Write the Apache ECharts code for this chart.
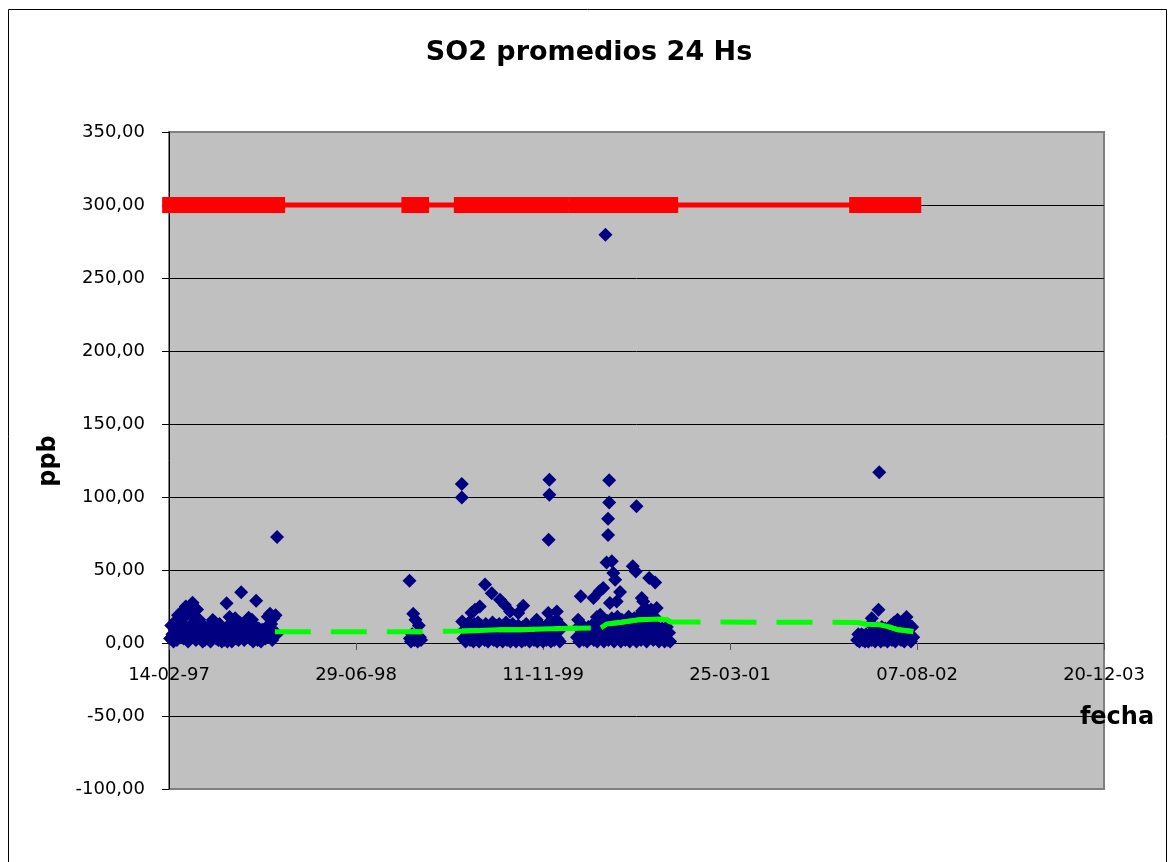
<!DOCTYPE html>
<html><head><meta charset="utf-8">
<script src="https://cdn.jsdelivr.net/npm/echarts@6/dist/echarts.min.js"></script>
<style>html,body{margin:0;padding:0;background:#fff}#c{width:1169px;height:862px}</style>
</head><body><div id="c"></div>
<script>
// Day offsets are counted from 14-02-1997 (first x tick)
const baseDateUTC = Date.UTC(1997, 1, 14);
const xMin = 0, xMax = 2500, xStep = 500;
const yMin = -100, yMax = 350, yStep = 50;
const sampleStepDays = 3;

// Regular 24h samples (every 3 days) per measuring campaign
const camp1Start = 3;
const camp1Vals = [3,12,6,1, 9,15,2,19,11,5, 14,22,3,18,25,8,1,21,12,24,27.6,6,17,2,23, 10,16,4,13,1, 7,2,10,5,3,
  12,1,9,15.7,6,14,3,11,2,13,8,1, 4,2,6,3,1, 12,17.8,5,1,15,9,17,3,11,2,14, 7, 6,11.6,2,9,4,
  13,17.3,3,8,16,1,12,5,10, 2,10,6,1,9,4,8,3, 11,18,5,20,13,2,17,8,19,6];
const camp2Start = 644;
const camp2Vals = [3,1,6,20,2,16,5,1,12,4,2];
const camp3Start = 784;
const camp3Vals = [14.8,3,9,1,12,6,14,2,11,5, 1,13,7,3,14,1,8,12,4,10, 2,13,6,1,11,4,9,14,2,7,
  12,1,5,13,3,9,1,11,6,14, 2,8,12,1,5,13,3,10,1,7, 12,4,9,1,11,6,2,13,5,8,
  1,10,4,12,2,7,11,1,9,3, 12,5,1,10,7,2,13,4,9,1, 14,6,2,11,16,3,8,1,12];
const camp4Start = 1091;
const camp4Vals = [4,11,1,9,6,12,2,10,5,1, 11,7,3,12,9,2,10,5,1,12, 8,14,3,16,1,11,6,15,2,13,
  9,17,4,1,14,7,18,3,12,1, 16,6,10,2,15,4,18,1,9,13, 3,17,7,1,14,5,19,2,22,10,
  6,24,1,15,20,4,23,9,2,18, 12,5,11,1,9,3,10,6,1,8, 11,2,7,1];
const camp5Start = 1840;
const camp5Vals = [2,6,1,4,6,2,5,1,6,3, 1,5,13,2,8,11,1,6,10,3, 9,1,11,5,2,10,7,1,9,4,
  12,2,8,14,1,10,16,4,12,2, 12,7,1,15,17.8,3,13,6,1,11, 4];

// Higher daily values (day offset, ppb)
const peakDays = [154,193,233,289, 643, 783,783,809,818,831,845,863,885,898,912,934,947,983,1014,1015,1017,1017,1037,
  1094,1101,1135,1144,1151,1153,1161,1167,1170,1174,1174,1177,1177,1179,1184,1188,1193,1197,1206,1240,1248,1250,1264,1268,1284,1300,1304,
  1879,1897,1899];
const peakVals = [27.2,34.7,29,72.6, 42.7, 108.9,99.7,20.7,22.8,25,40,34,29.7,26,21.6,20.5,25.5,16,20.5,70.8,101.6,111.8,21.6,
  16,32,30.8,17.8,35.4,19.4,37.7,279.6,55.2,85.1,74,111.4,96.3,27.4,56,48,43.4,28.5,35,52.5,49,93.6,30.8,28.5,44.5,41.5,24,
  17,22.8,117];

const limitValue = 300;

// Running mean (green)
const meanDays = [283,644,674,784,830,880,940,1000,1048,1091,1155,1170,1210,1259,1313,1332,1340,1840,1865,1900,1925,1950,1990];
const meanVals = [7.7,7.7,7.7,8.3,8.6,9.0,9.1,9.6,9.9,10.1,10.4,13.0,14.2,16.0,16.4,16.0,14.4,14.1,12.8,12.5,11.0,9.0,7.9];

// ---- build data
const camps = [[camp1Start,camp1Vals],[camp2Start,camp2Vals],[camp3Start,camp3Vals],[camp4Start,camp4Vals],[camp5Start,camp5Vals]];
const so2 = [];
camps.forEach(([s,vals]) => vals.forEach((v,i) => so2.push([s + i*sampleStepDays, v])));
peakDays.forEach((d,i) => so2.push([d, peakVals[i]]));
const daysSorted = Array.from(new Set(so2.map(p => p[0]))).sort((a,b)=>a-b);
const limitData = daysSorted.map(d => [d, limitValue]);
const meanData = meanDays.map((d,i) => [d, meanVals[i]]);
const meanSegments = [];
let cur = [];
meanData.forEach((p,i) => {
  if (i > 0 && p[0] - meanData[i-1][0] > 60) { meanSegments.push(cur); cur = []; }
  cur.push(p);
});
meanSegments.push(cur);

function pad(n){return (n<10?'0':'')+n;}
function fmtDate(d){
  const dt = new Date(baseDateUTC + d*86400000);
  return pad(dt.getUTCDate())+'-'+pad(dt.getUTCMonth()+1)+'-'+String(dt.getUTCFullYear()).slice(2);
}

const FONT = 'Tahoma, "DejaVu Sans", sans-serif';
const chart = echarts.init(document.getElementById('c'), null, {renderer:'canvas'});
const series = [
  {type:'scatter', data: so2, symbol:'diamond', symbolSize:14, itemStyle:{color:'#000080', opacity:1}, z:2, silent:true},
  {type:'line', data: limitData, symbol:'rect', symbolSize:16, showAllSymbol:true,
   lineStyle:{color:'#ff0000', width:5}, itemStyle:{color:'#ff0000'}, z:3, silent:true},
  {type:'line', data: meanData, showSymbol:false, symbol:'none',
   lineStyle:{color:'#00ff00', width:5, type:[36,20], cap:'butt'}, z:4, silent:true}
];
meanSegments.forEach(seg => {
  if (seg.length > 1) series.push({type:'line', data: seg, showSymbol:false, symbol:'none',
    lineStyle:{color:'#00ff00', width:5, cap:'butt'}, z:5, silent:true});
});

chart.setOption({
  animation:false,
  backgroundColor:'#ffffff',
  grid:{left:169, right:65, top:132, bottom:73, containLabel:false, outerBoundsMode:'none',
        show:true, backgroundColor:'#c0c0c0', borderColor:'#808080', borderWidth:2},
  xAxis:{type:'value', min:xMin, max:xMax, interval:xStep, offset:0,
    axisLine:{show:true, onZero:false, lineStyle:{color:'#000', width:1}},
    axisTick:{show:true, length:7, lineStyle:{color:'#555'}},
    splitLine:{show:false},
    axisLabel:{formatter: fmtDate, color:'#000', fontFamily:FONT, fontSize:18, margin:23}},
  yAxis:{type:'value', min:yMin, max:yMax, interval:yStep,
    axisLine:{show:true, lineStyle:{color:'#000', width:1}},
    axisTick:{show:true, length:7, lineStyle:{color:'#000'}},
    splitLine:{show:true, showMinLine:false, showMaxLine:false, lineStyle:{color:'#000', width:1}},
    axisLabel:{formatter: v => v.toFixed(2).replace('.', ','), color:'#000', fontFamily:FONT, fontSize:18, margin:24}},
  graphic:[
    {type:'rect', shape:{x:8.5, y:9.5, width:1158, height:880}, style:{fill:'none', stroke:'#000', lineWidth:1}, z:-10},
    {type:'text', x:589, y:53, style:{text:'SO2 promedios 24 Hs', font:'bold 27px '+FONT, fill:'#000', align:'center', verticalAlign:'middle', textAlign:'center', textVerticalAlign:'middle'}},
    {type:'text', x:49, y:461, rotation:Math.PI/2, style:{text:'ppb', font:'bold 24px '+FONT, fill:'#000', align:'center', verticalAlign:'middle', textAlign:'center', textVerticalAlign:'middle'}},
    {type:'text', x:1117, y:718, style:{text:'fecha', font:'bold 24px '+FONT, fill:'#000', align:'center', verticalAlign:'middle', textAlign:'center', textVerticalAlign:'middle'}, z:100}
  ],
  series: series
});
// Place the x axis (line, ticks, labels) on y = 0, as in the original
const yZeroPx = chart.convertToPixel({yAxisIndex:0}, 0);
const yBottomPx = chart.convertToPixel({yAxisIndex:0}, yMin);
chart.setOption({xAxis:{offset: yZeroPx - yBottomPx}});
</script></body></html>
